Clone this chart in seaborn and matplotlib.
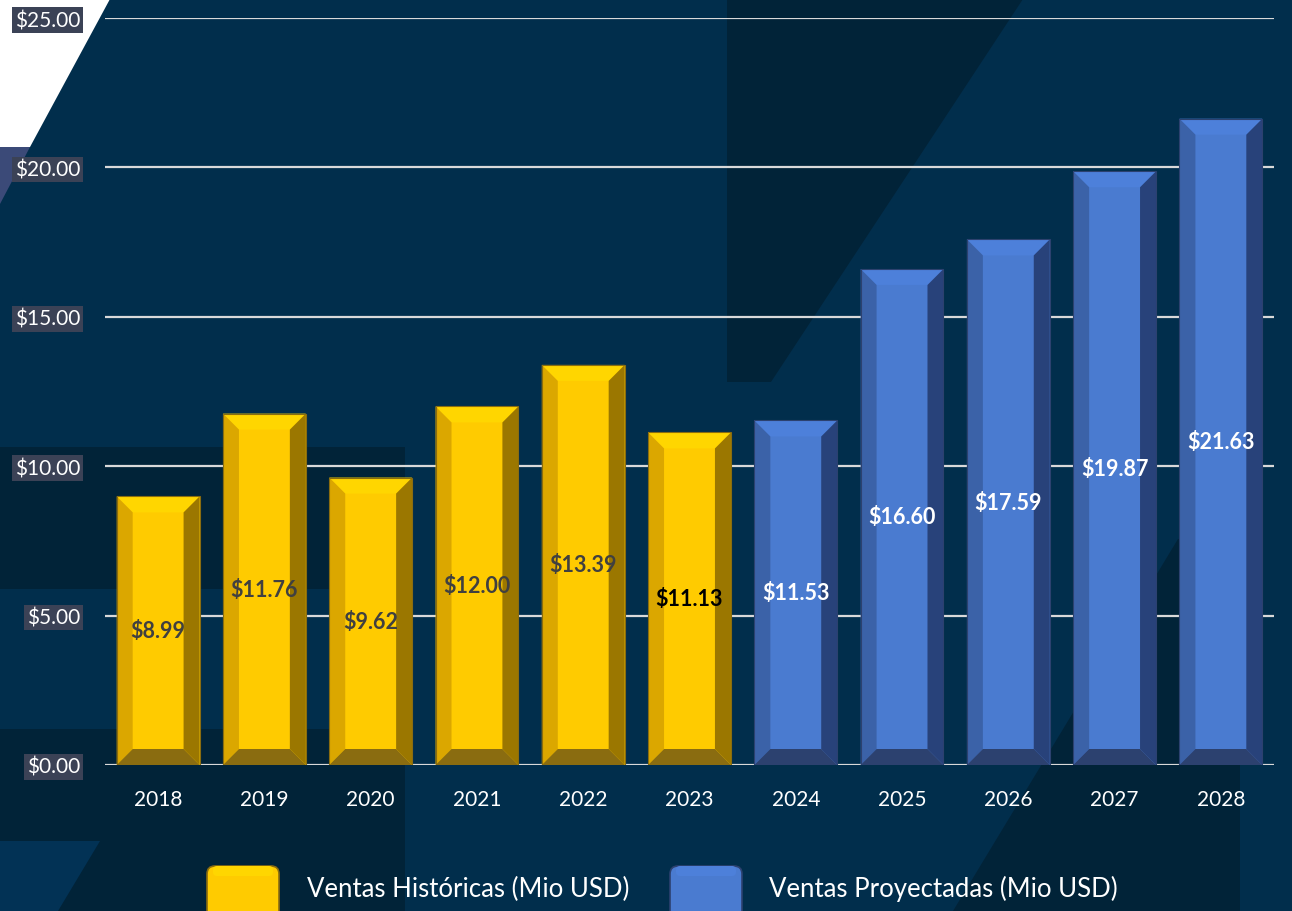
import matplotlib
matplotlib.use("Agg")
import matplotlib.pyplot as plt
from matplotlib.patches import Polygon, FancyBboxPatch
import pandas as pd
import seaborn as sns

# datos del grafico
anios = ["2018", "2019", "2020", "2021", "2022", "2023", "2024", "2025", "2026", "2027", "2028"]
ventas = [8.99, 11.76, 9.62, 12.00, 13.39, 11.13, 11.53, 16.60, 17.59, 19.87, 21.63]
tipo = ["Ventas Históricas (Mio USD)"] * 6 + ["Ventas Proyectadas (Mio USD)"] * 5
color_etiqueta = ["#404040", "#404040", "#404040", "#404040", "#404040", "#000000",
                  "white", "white", "white", "white", "white"]
yticks = [0, 5, 10, 15, 20, 25]

df = pd.DataFrame({"ANIO": anios, "VENTAS": ventas, "TIPO": tipo})

sns.set_style("white")
plt.rcParams["font.family"] = ["Lato", "DejaVu Sans"]

FONDO = "#012e4c"
OSCURO = "#012338"

# colores de cada serie: cara, arriba, izquierda, derecha, abajo
amarillo = {"cara": "#ffcb00", "top": "#ffd600", "izq": "#dba700", "der": "#9b7700", "abajo": "#8a6c10"}
azul = {"cara": "#4a7bd0", "top": "#4d80da", "izq": "#3b62a8", "der": "#28427a", "abajo": "#2c416f"}

fig = plt.figure(figsize=(12.92, 9.12), dpi=100)
fig.patch.set_facecolor(FONDO)

# fondo decorativo en pixeles
bg = fig.add_axes([0, 0, 1, 1], zorder=-5)
bg.set_xlim(0, 1292)
bg.set_ylim(912, 0)
bg.axis("off")
bg.add_patch(Polygon([(727, 0), (1023, 0), (771, 383), (727, 383)], color=OSCURO, lw=0))
bg.add_patch(Polygon([(0, 448), (405, 448), (405, 590), (0, 590)], color=OSCURO, lw=0))
bg.add_patch(Polygon([(0, 730), (405, 730), (405, 912), (0, 912)], color=OSCURO, lw=0))
bg.add_patch(Polygon([(0, 842), (100, 842), (58, 912), (0, 912)], color="#023255", lw=0))
bg.add_patch(Polygon([(1178, 540), (1240, 540), (1240, 912), (953, 912)], color=OSCURO, lw=0))
bg.add_patch(Polygon([(0, 0), (110, 0), (30, 148), (0, 148)], color="white", lw=0))
bg.add_patch(Polygon([(0, 148), (30, 148), (0, 205)], color="#3b4a78", lw=0))

# leyenda dibujada a mano
for x0, esquema, texto, xt in [(207, amarillo, "Ventas Históricas (Mio USD)", 307),
                               (670, azul, "Ventas Proyectadas (Mio USD)", 769)]:
    bg.add_patch(FancyBboxPatch((x0, 867), 72, 56, boxstyle="round,pad=0,rounding_size=8",
                                facecolor=esquema["cara"], edgecolor=esquema["abajo"], lw=1.2))
    bg.add_patch(FancyBboxPatch((x0 + 6, 867), 60, 10, boxstyle="round,pad=0,rounding_size=4",
                                facecolor=esquema["top"], edgecolor="none"))
    bg.text(xt, 889, texto, color="white", fontsize=18.5, va="center", ha="left")

ax = fig.add_axes([105 / 1292, (912 - 766) / 912, 1169 / 1292, 747 / 912])
ax.patch.set_alpha(0)

sns.barplot(data=df, x="ANIO", y="VENTAS", hue="TIPO", dodge=False, width=0.78,
            palette=[amarillo["cara"], azul["cara"]], saturation=1, legend=False,
            edgecolor="none", ax=ax)

ax.set_ylim(0, 25)
ax.set_xlim(-0.5, 10.5)
ax.set_axisbelow(True)
ax.yaxis.grid(True, color="#d9d9d9", lw=1.6)
ax.xaxis.grid(False)
for s in ax.spines.values():
    s.set_visible(False)

# bisel de cada barra
px_x = 1169 / 11
px_y = 747 / 25
dx = 16 / px_x
dy = 16 / px_y
barras = [p for p in ax.patches if p.get_height() > 0]
barras.sort(key=lambda p: p.get_x())
for i, p in enumerate(barras):
    x0 = p.get_x()
    x1 = x0 + p.get_width()
    h = p.get_height()
    e = amarillo if i < 6 else azul
    partes = [
        ("top", [(x0, h), (x1, h), (x1 - dx, h - dy), (x0 + dx, h - dy)]),
        ("izq", [(x0, 0), (x0, h), (x0 + dx, h - dy), (x0 + dx, dy)]),
        ("der", [(x1, 0), (x1, h), (x1 - dx, h - dy), (x1 - dx, dy)]),
        ("abajo", [(x0, 0), (x1, 0), (x1 - dx, dy), (x0 + dx, dy)]),
    ]
    for clave, pts in partes:
        ax.add_patch(Polygon(pts, facecolor=e[clave], edgecolor="none", zorder=3))
    ax.add_patch(Polygon([(x0, 0), (x0, h), (x1, h), (x1, 0)], fill=False,
                         edgecolor=e["abajo"], lw=0.8, zorder=4))
    ax.text(x0 + p.get_width() / 2, h / 2, f"${h:.2f}", ha="center", va="center",
            fontsize=15.5, fontweight="bold", color=color_etiqueta[i], zorder=5)

ax.set_yticks(yticks)
ax.set_yticklabels([f"${v:.2f}" for v in yticks])
ax.tick_params(axis="y", length=0, pad=18, labelsize=15, labelcolor="white")
ax.tick_params(axis="x", length=0, pad=17, labelsize=15, labelcolor="white")
for lab in ax.get_yticklabels():
    lab.set_bbox(dict(facecolor="#3b4256", edgecolor="none", pad=2))
ax.set_xlabel("")
ax.set_ylabel("")

plt.savefig("out.png", dpi=100, facecolor=fig.get_facecolor())
